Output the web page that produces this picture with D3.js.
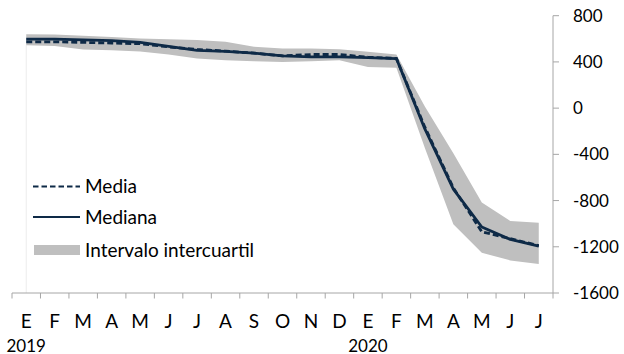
<!DOCTYPE html>
<html><head><meta charset="utf-8">
<script src="https://cdn.jsdelivr.net/npm/d3@7"></script>
<style>html,body{margin:0;padding:0;background:#fff;}svg{display:block;}</style>
</head><body>
<svg id="c" width="624" height="354"></svg>
<script>
const months = ["E","F","M","A","M","J","J","A","S","O","N","D","E","F","M","A","M","J","J"];
const years = [{label:"2019", index:0},{label:"2020", index:12}];
const mediana = [597,597,591,585,570,535,500,492,476,452,444,444,438,429,-180,-701,-1029,-1136,-1194];
const media   = [574,574,569,563,558,530,508,493,476,452,464,464,441,430,-165,-690,-1070,-1130,-1190];
const p75     = [640,638,626,615,603,597,589,574,532,516,516,510,487,464,15,-390,-817,-977,-991];
const p25     = [545,537,508,500,490,464,430,415,406,400,406,415,357,350,-345,-1005,-1252,-1318,-1348];
const yTicks = [800,400,0,-400,-800,-1200,-1600];
const legendItems = ["Media","Mediana","Intervalo intercuartil"];

const svg = d3.select("#c");
const font = "Lato, 'Open Sans', sans-serif";
const fsNum = 17;
const fsTxt = 19;
const x = d3.scaleBand().domain(d3.range(months.length)).range([12,553]);
const y = d3.scaleLinear().domain([-1600,800]).range([293,15.7]);
const cx = i => x(i) + x.bandwidth()/2;
const navy = "#0e2a47";
const axisCol = "#a6a6a6";

// faint vertical line
svg.append("line").attr("x1",cx(0)).attr("x2",cx(0)).attr("y1",y(p25[0])).attr("y2",y(-1600))
  .attr("stroke","#ececec").attr("stroke-width",1);

// band
const area = d3.area().x((d,i)=>cx(i)).y0((d,i)=>y(p25[i])).y1((d,i)=>y(p75[i]));
svg.append("path").datum(p75).attr("d",area).attr("fill","#bfbfbf");

const line = d3.line().x((d,i)=>cx(i)).y(d=>y(d));
svg.append("path").datum(mediana).attr("d",line).attr("fill","none")
  .attr("stroke",navy).attr("stroke-width",2.8).attr("stroke-linejoin","round");
svg.append("path").datum(media).attr("d",line).attr("fill","none")
  .attr("stroke",navy).attr("stroke-width",2.8).attr("stroke-dasharray","6,3");

// y axis (right)
const ya = svg.append("g");
ya.append("line").attr("x1",553).attr("x2",553).attr("y1",y(800)).attr("y2",y(-1600))
  .attr("stroke",axisCol).attr("stroke-width",1);
yTicks.forEach(t=>{
  ya.append("line").attr("x1",553).attr("x2",559).attr("y1",y(t)).attr("y2",y(t))
    .attr("stroke",axisCol);
  ya.append("text").attr("x",573).attr("y",y(t)).attr("dy","0.36em")
    .attr("font-family",font).attr("font-size",fsNum).attr("fill","#000").text(t);
});

// x axis
const xa = svg.append("g");
xa.append("line").attr("x1",12).attr("x2",553).attr("y1",293).attr("y2",293)
  .attr("stroke",axisCol);
for(let i=0;i<=months.length;i++){
  const px = i<months.length ? x(i) : x(months.length-1)+x.bandwidth();
  xa.append("line").attr("x1",px).attr("x2",px).attr("y1",293).attr("y2",298.5).attr("stroke",axisCol);
}
months.forEach((m,i)=>{
  xa.append("text").attr("x",cx(i)).attr("y",328).attr("text-anchor","middle")
    .attr("font-family",font).attr("font-size",fsTxt).attr("fill","#000").text(m);
});
years.forEach(yr=>{
  xa.append("text").attr("x",cx(yr.index)).attr("y",351.5).attr("text-anchor","middle")
    .attr("font-family",font).attr("font-size",fsNum).attr("fill","#000").text(yr.label);
});

// legend
const lg = svg.append("g");
const ly = [186.5,217,250];
lg.append("line").attr("x1",33).attr("x2",80).attr("y1",ly[0]).attr("y2",ly[0])
  .attr("stroke",navy).attr("stroke-width",2.2).attr("stroke-dasharray","5.5,3");
lg.append("line").attr("x1",33).attr("x2",80).attr("y1",ly[1]).attr("y2",ly[1])
  .attr("stroke",navy).attr("stroke-width",2.2);
lg.append("rect").attr("x",34).attr("y",ly[2]-5).attr("width",46).attr("height",10).attr("fill","#bfbfbf");
legendItems.forEach((t,i)=>{
  lg.append("text").attr("x",85).attr("y",ly[i]).attr("dy","0.36em")
    .attr("font-family",font).attr("font-size",fsTxt).attr("fill","#000").text(t);
});
</script>
</body></html>
